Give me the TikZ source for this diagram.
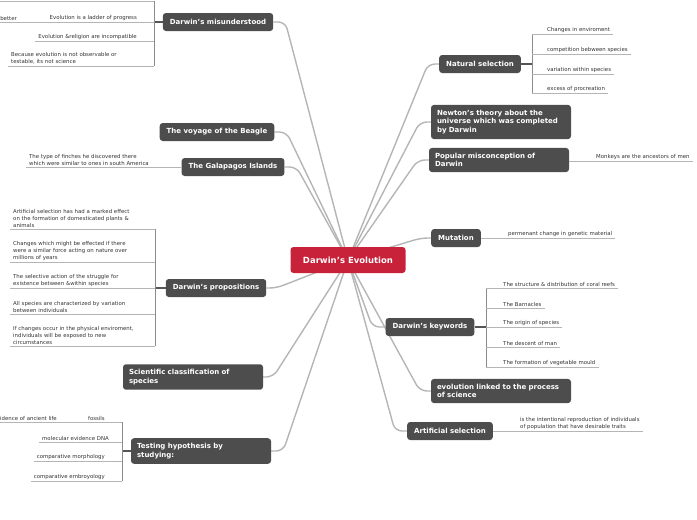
\documentclass[tikz,border=0pt]{standalone}
\usepackage{fontspec}
\setmainfont{DejaVu Sans}
\usetikzlibrary{backgrounds}
\definecolor{topicgray}{HTML}{4D4D4D}
\definecolor{rootred}{HTML}{C8213A}
\definecolor{linegray}{HTML}{B5B5B5}
\definecolor{bargray}{HTML}{8C8C8C}
\definecolor{stubgray}{HTML}{555555}
\definecolor{leaftext}{HTML}{333333}
\begin{document}
\begin{tikzpicture}[
x=1pt, y=-1pt,
topic/.style={fill=topicgray, text=white, rounded corners=3pt, font=\bfseries\fontsize{7}{8.7}\selectfont, inner xsep=7pt, inner ysep=5pt, minimum height=18pt},
wide/.style={topic, text width=128pt, inner xsep=6pt, align=left},
root/.style={topic, fill=rootred, font=\bfseries\fontsize{8.5}{10}\selectfont, minimum height=26pt, minimum width=115pt},
leaf/.style={font=\fontsize{5.4}{6.8}\selectfont, text=leaftext, inner xsep=3pt, inner ysep=1.5pt},
note/.style={leaf, text width=150pt, align=left},
branch/.style={draw=linegray, line width=1.4pt, rounded corners=7pt},
leafline/.style={draw=linegray, line width=0.8pt},
barline/.style={draw=bargray, line width=0.7pt},
stub/.style={draw=stubgray, line width=1.8pt}
]
\useasboundingbox (0,0) rectangle (697,520);

\node[root] (evo) at (348,260) {Darwin's Evolution};

\node[topic] (misund) at (218,22) {Darwin's misunderstood};
\node[topic] (beagle) at (217,132) {The voyage of the Beagle};
\node[topic] (galapagos) at (233,167) {The Galapagos Islands};
\node[topic] (props) at (216,288) {Darwin's propositions};
\node[wide] (classif) at (193,377) {Scientific classification of\\ species};
\node[wide] (testing) at (201,451) {Testing hypothesis by\\ studying:};

\node[topic] (natsel) at (480,64) {Natural selection};
\node[wide] (newton) at (501,122) {Newton's theory about the\\ universe which was completed\\ by Darwin};
\node[wide] (popular) at (499,160) {Popular misconception of\\ Darwin};
\node[topic] (mutation) at (456,238) {Mutation};
\node[topic] (keywords) at (430,327) {Darwin's keywords};
\node[wide] (science) at (501,391) {evolution linked to the process\\ of science};
\node[topic] (artsel) at (450,431) {Artificial selection};

\begin{pgfonlayer}{background}
\draw[branch] (evo.center) -- ([xshift=12pt]misund.east) -- (misund.east);
\draw[branch] (evo.center) -- ([xshift=12pt]beagle.east) -- (beagle.east);
\draw[branch] (evo.center) -- ([xshift=12pt]galapagos.east) -- (galapagos.east);
\draw[branch] (evo.center) -- ([xshift=10pt]props.east) -- (props.east);
\draw[branch] (evo.center) -- ([xshift=10pt]classif.east) -- (classif.east);
\draw[branch] (evo.center) -- ([xshift=12pt]testing.east) -- (testing.east);
\draw[branch] (evo.center) -- ([xshift=-11pt]natsel.west) -- (natsel.west);
\draw[branch] (evo.center) -- ([xshift=-11pt]newton.west) -- (newton.west);
\draw[branch] (evo.center) -- ([xshift=-11pt]popular.west) -- (popular.west);
\draw[branch] (evo.center) -- ([xshift=-10pt]mutation.west) -- (mutation.west);
\draw[branch] (evo.center) -- ([xshift=-13pt]keywords.west) -- (keywords.west);
\draw[branch] (evo.center) -- ([xshift=-11pt]science.west) -- (science.west);
\draw[branch] (evo.center) -- ([xshift=-12pt]artsel.west) -- (artsel.west);
\end{pgfonlayer}

\coordinate (natsel-bar) at (532,64);
\node[leaf, anchor=south west] (ns1) at (544,34) {Changes in enviroment};
\node[leaf, anchor=south west] (ns2) at (544,54) {competition bebween species};
\node[leaf, anchor=south west] (ns3) at (544,74) {variation within species};
\node[leaf, anchor=south west] (ns4) at (544,93) {excess of procreation};
\draw[stub] (natsel.east) -- (natsel-bar);
\draw[barline] (natsel-bar |- ns1.south) -- (natsel-bar |- ns4.south);
\draw[leafline] (natsel-bar |- ns1.south) -- (ns1.south east);
\draw[leafline] (natsel-bar |- ns2.south) -- (ns2.south east);
\draw[leafline] (natsel-bar |- ns3.south) -- (ns3.south east);
\draw[leafline] (natsel-bar |- ns4.south) -- (ns4.south east);

\coordinate (kw-bar) at (486,327);
\node[leaf, anchor=south west] (kw1) at (500,288) {The structure \& distribution of coral reefs};
\node[leaf, anchor=south west] (kw2) at (500,308) {The Barnacles};
\node[leaf, anchor=south west] (kw3) at (500,327) {The origin of species};
\node[leaf, anchor=south west] (kw4) at (500,347) {The descent of man};
\node[leaf, anchor=south west] (kw5) at (500,367) {The formation of vegetable mould};
\draw[stub] (keywords.east) -- (kw-bar);
\draw[barline] (kw-bar |- kw1.south) -- (kw-bar |- kw5.south);
\draw[leafline] (kw-bar |- kw1.south) -- (kw1.south east);
\draw[leafline] (kw-bar |- kw2.south) -- (kw2.south east);
\draw[leafline] (kw-bar |- kw3.south) -- (kw3.south east);
\draw[leafline] (kw-bar |- kw4.south) -- (kw4.south east);
\draw[leafline] (kw-bar |- kw5.south) -- (kw5.south east);

\node[leaf, anchor=south west] (monkeys) at (593,161) {Monkeys are the ancestors of men};
\draw[leafline] (popular.east |- monkeys.south) -- (monkeys.south east);

\node[leaf, anchor=south west] (genetic) at (505,238) {permenant change in genetic material};
\draw[leafline] (mutation.east |- genetic.south) -- (genetic.south east);

\node[leaf, align=left, anchor=south west] (traits) at (517,431) {is the intentional reproduction of individuals\\ of population that have desirable traits};
\draw[leafline] (artsel.east |- traits.south) -- (traits.south east);

\coordinate (mis-bar) at (154,22);
\coordinate (mis-top) at (-2,1);
\node[leaf, anchor=south east] (better) at (20,22) {better};
\node[leaf, anchor=south east] (mis1) at (140,22) {Evolution is a ladder of progress};
\node[leaf, anchor=south east] (mis2) at (140,41) {Evolution \&religion are incompatible};
\node[note, anchor=south west] (mis3) at (8,66) {Because evolution is not observable or\\ testable, its not science};
\draw[stub] (misund.west) -- (mis-bar);
\draw[barline] (mis-bar |- mis-top) -- (mis-bar |- mis3.south);
\draw[leafline] (mis-top) -- (mis-bar |- mis-top);
\draw[leafline] (better.south west) -- (mis-bar |- mis1.south);
\draw[leafline] (mis2.south west) -- (mis-bar |- mis2.south);
\draw[leafline] (mis3.south west) -- (mis-bar |- mis3.south);

\node[leaf, align=left, anchor=south west] (finches) at (26,167) {The type of finches he discovered there\\ which were similar to ones in south America};
\draw[leafline] (finches.south west) -- (galapagos.west |- finches.south);

\coordinate (props-bar) at (155,288);
\node[note, anchor=south west] (pr1) at (10,229) {Artificial selection has had a marked effect\\ on the formation of domesticated plants \&\\ animals};
\node[note, anchor=south west] (pr2) at (10,262) {Changes which might be effected if there\\ were a similar force acting on nature over\\ millions of years};
\node[note, anchor=south west] (pr3) at (10,288) {The selective action of the struggle for\\ existence between \&within species};
\node[note, anchor=south west] (pr4) at (10,314) {All species are characterized by variation\\ between individuals};
\node[note, anchor=south west] (pr5) at (10,346) {If changes occur in the physical enviroment,\\ individuals will be exposed to new\\ circumstances};
\draw[stub] (props.west) -- (props-bar);
\draw[barline] (props-bar |- pr1.south) -- (props-bar |- pr5.south);
\draw[leafline] (pr1.south west) -- (props-bar |- pr1.south);
\draw[leafline] (pr2.south west) -- (props-bar |- pr2.south);
\draw[leafline] (pr3.south west) -- (props-bar |- pr3.south);
\draw[leafline] (pr4.south west) -- (props-bar |- pr4.south);
\draw[leafline] (pr5.south west) -- (props-bar |- pr5.south);

\coordinate (test-bar) at (122,451);
\node[leaf, anchor=south east] (ancient) at (60,422) {idence of ancient life};
\node[leaf, anchor=south east] (ts1) at (108,422) {fossils};
\node[leaf, anchor=south east] (ts2) at (112,442) {molecular evidence DNA};
\node[leaf, anchor=south east] (ts3) at (108,461) {comparative morphology};
\node[leaf, anchor=south east] (ts4) at (108,481) {comparative embroyology};
\draw[stub] (testing.west) -- (test-bar);
\draw[barline] (test-bar |- ts1.south) -- (test-bar |- ts4.south);
\draw[leafline] (ancient.south west) -- (test-bar |- ts1.south);
\draw[leafline] (ts2.south west) -- (test-bar |- ts2.south);
\draw[leafline] (ts3.south west) -- (test-bar |- ts3.south);
\draw[leafline] (ts4.south west) -- (test-bar |- ts4.south);

\end{tikzpicture}
\end{document}
